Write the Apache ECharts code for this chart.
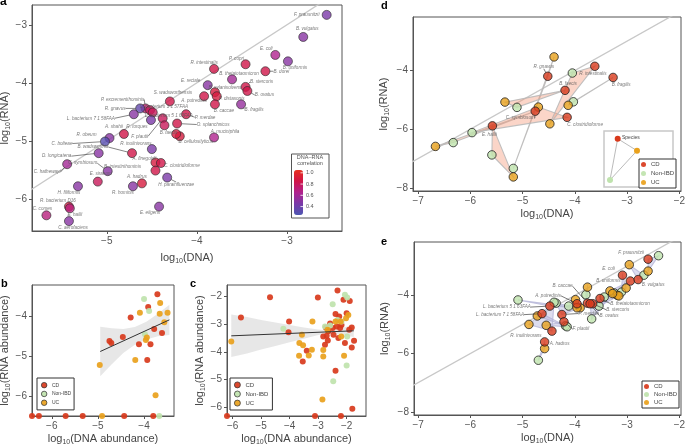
<!DOCTYPE html>
<html><head><meta charset="utf-8">
<script src="https://cdn.jsdelivr.net/npm/echarts@6/dist/echarts.min.js"></script>
<style>html,body{margin:0;padding:0;background:#fff}#c{width:685px;height:444px}</style>
</head><body><div id="c"></div>
<script>
// ---------------- Panel a ----------------
const aSpecies = ['F. prausnitzii','B. vulgatus','E. coli','B. uniformis','P. copri','B. dorei','R. intestinalis','B. thetaiotaomicron','E. rectale','B. stercoris','B. xylanisolvens','B. ovatus','P. distasonis','A. putredinis','S. wadsworthensis','B. caccae','B. fragilis','P. excrementihominis','R. gnavus','L. bacterium 1 1 57FAA','L. bacterium 5 1 63FAA','L. bacterium 7 1 58FAA','F. plautii','B. faecis','O. splanchnicus','P. merdae','A. shahii','R. torques','R. obeum','C. bolteae','B. cellulosilyticus','A. onderdonkii','B. wadsworthia','R. inulinivorans','D. longicatena','A. finegoldii','C. clostridioforme','C. hathewayi','C. symbiosum','B. intestinihominis','H. parainfluenzae','E. siraeum','A. hadrus','H. filiformis','R. hominis','R. bacterium D16','E. hallii','C. comes','C. aerofaciens','E. eligens','A. muciniphila'];
const aDNA = [-2.56,-2.82,-3.13,-2.99,-3.46,-3.24,-3.81,-3.61,-3.88,-3.46,-3.80,-3.44,-3.78,-3.92,-4.30,-3.80,-3.51,-4.57,-4.63,-4.52,-4.49,-4.70,-4.38,-4.36,-4.22,-4.12,-4.81,-4.51,-4.97,-5.02,-4.19,-4.23,-4.72,-4.50,-5.09,-4.46,-4.40,-5.44,-4.99,-4.46,-4.33,-5.10,-4.61,-5.32,-4.71,-5.42,-5.41,-5.67,-5.42,-4.42,-3.81];
const aRNA = [-2.83,-3.21,-3.52,-3.63,-3.68,-3.80,-3.76,-3.94,-4.04,-4.07,-4.16,-4.14,-4.23,-4.23,-4.32,-4.37,-4.37,-4.44,-4.44,-4.47,-4.51,-4.54,-4.61,-4.73,-4.70,-4.54,-4.88,-4.64,-4.95,-5.01,-4.92,-4.88,-5.21,-5.14,-5.21,-5.37,-5.38,-5.40,-5.52,-5.51,-5.63,-5.70,-5.73,-5.78,-5.78,-6.13,-6.16,-6.28,-6.38,-6.13,-4.94];
const aCorr = [0.45,0.5,0.65,0.5,0.85,0.85,0.85,0.6,0.5,0.85,0.9,0.85,0.9,0.85,0.85,0.85,0.55,0.75,0.35,0.8,0.8,0.5,0.8,0.8,0.85,0.85,0.85,0.45,0.5,0.3,0.9,0.9,0.85,0.45,0.5,0.9,0.85,0.6,0.5,0.85,0.45,0.8,0.9,0.5,0.5,0.9,0.7,0.7,0.5,0.5,0.65];
const aTicksX = [-5,-4,-3];
const aTicksY = [-6,-5,-4,-3];
const corrTicks = [1.0,0.8,0.6,0.4];

// ---------------- Panel b ----------------
const bCD_x = [-3.71,-3.91,-4.29,-3.78,-3.61,-4.46,-4.75,-4.71,-4.11,-3.86,-3.93,-6.43,-6.28,-5.70,-5.33,-4.43,-3.80];
const bCD_y = [-3.46,-3.78,-4.04,-4.33,-4.43,-4.53,-4.63,-4.68,-4.71,-4.71,-5.10,-6.5,-6.5,-6.5,-6.5,-6.5,-6.5];
const bNon_x = [-4.00,-3.89,-3.98,-3.67];
const bNon_y = [-3.58,-3.88,-4.46,-6.5];
const bUC_x = [-3.65,-4.09,-3.49,-3.66,-3.56,-3.96,-3.94,-4.19,-4.96,-3.75,-4.91];
const bUC_y = [-3.68,-3.92,-3.92,-3.95,-4.16,-4.60,-4.54,-5.10,-5.23,-5.98,-6.5];
const bFitX = [-4.95,-3.45];
const bFitY = [-4.89,-4.10];
const bBandX = [-4.95,-4.7,-4.45,-4.2,-3.95,-3.7,-3.45];
const bBandHi = [-4.27,-4.31,-4.33,-4.28,-4.15,-3.95,-3.72];
const bBandLo = [-5.51,-5.21,-4.93,-4.72,-4.59,-4.51,-4.48];
const bTicksX = [-6,-5,-4];
const bTicksY = [-6,-5,-4];

// ---------------- Panel c ----------------
const cCD_x = [-2.32,-4.69,-3.01,-2.11,-1.89,-5.71,-4.02,-4.04,-2.39,-2.26,-2.00,-2.58,-2.49,-2.35,-2.18,-1.82,-2.73,-2.64,-2.70,-2.66,-2.46,-2.29,-2.06,-1.74,-1.82,-2.23,-1.91,-3.40,-3.54,-2.39,-3.11,-2.20,-1.80,-6.20,-2.82,-2.76];
const cCD_y = [-1.81,-2.05,-2.06,-2.14,-2.18,-2.77,-2.92,-3.30,-2.65,-2.74,-2.62,-2.99,-3.15,-3.10,-3.04,-3.13,-3.13,-3.27,-3.43,-3.60,-3.39,-3.51,-3.69,-3.61,-3.85,-3.15,-3.21,-3.96,-4.35,-4.68,-6.30,-6.30,-6.04,-6.30,-3.45,-3.75];
const cNon_x = [-2.06,-1.98,-2.49,-4.22,-2.76,-2.32,-2.58,-1.98,-2.00,-2.47,-2.18];
const cNon_y = [-1.96,-2.06,-2.30,-3.18,-3.10,-2.86,-3.06,-3.45,-4.49,-5.06,-2.92];
const cUC_x = [-6.05,-3.57,-3.66,-3.53,-3.67,-3.33,-3.22,-3.20,-2.82,-2.82,-2.85,-2.09,-2.19,-1.94,-2.21,-2.39,-2.67,-2.02];
const cUC_y = [-3.63,-3.39,-3.69,-3.77,-4.14,-4.13,-3.93,-2.92,-3.94,-4.17,-5.71,-4.14,-3.45,-2.68,-2.92,-2.92,-3.21,-2.80];
const cFitX = [-6.05,-1.75];
const cFitY = [-3.43,-3.25];
const cBandX = [-6.05,-5.5,-5.0,-4.5,-4.0,-3.5,-3.0,-2.7,-2.4,-2.1,-1.75];
const cBandHi = [-2.67,-2.76,-2.86,-2.95,-3.04,-3.13,-3.20,-3.23,-3.20,-3.13,-3.03];
const cBandLo = [-4.19,-4.06,-3.92,-3.79,-3.66,-3.53,-3.40,-3.35,-3.36,-3.41,-3.47];
const cTicksX = [-6,-5,-4,-3,-2];
const cTicksY = [-6,-5,-4,-3,-2];

// ---------------- Panel d ----------------
const dSpecies = ['E. hallii','R. gnavus','C. symbiosum','C. clostridioforme','B. faecis','R. intestinalis','B. fragilis'];
const dCD_x = [-5.58,-4.52,-4.76,-4.15,-4.19,-3.62,-3.27];
const dCD_y = [-5.89,-4.20,-5.39,-5.60,-4.68,-3.86,-4.24];
const dNon_x = [-5.59,-5.18,-6.33,-5.97,-5.11,-4.05,-4.03];
const dNon_y = [-6.88,-7.34,-6.46,-6.12,-5.26,-4.09,-5.07];
const dUC_x = [-5.18,-4.40,-6.67,-4.70,-5.34,-4.48,-4.13];
const dUC_y = [-7.63,-3.54,-6.59,-5.25,-5.08,-5.82,-5.19];

// ---------------- Panel e ----------------
const eSpecies = ['F. prausnitzii','E. coli','B. uniformis','B. vulgatus','B. caccae','A. putredinis','B. thetaiotaomicron','B. stercoris','B. ovatus','P. merdae','L. bacterium 5 1 63FAA','L. bacterium 7 1 58FAA','F. plautii','R. inulinivorans','A. hadrus'];
const eCD_x = [-2.60,-3.09,-2.94,-2.79,-3.76,-3.96,-3.52,-3.66,-3.71,-4.25,-4.48,-4.63,-4.21,-4.44,-4.58];
const eCD_y = [-2.76,-3.31,-3.51,-3.46,-4.27,-4.29,-4.11,-4.29,-4.29,-4.66,-4.37,-4.63,-4.91,-5.23,-5.60];
const eNon_x = [-2.40,-3.11,-3.25,-2.68,-3.79,-4.12,-3.44,-3.54,-3.68,-4.36,-5.09,-4.18,-4.15,-4.40,-4.70];
const eNon_y = [-2.64,-3.89,-3.92,-3.31,-3.98,-4.37,-4.06,-4.37,-4.81,-4.27,-4.16,-5.05,-5.08,-4.24,-6.23];
const eUC_x = [-2.60,-3.02,-3.33,-2.96,-3.76,-3.99,-3.19,-3.16,-3.28,-3.90,-3.96,-4.72,-4.55,-4.88,-4.58];
const eUC_y = [-3.17,-3.75,-3.85,-2.95,-3.72,-4.15,-4.00,-4.02,-3.94,-4.43,-4.43,-4.71,-5.03,-5.00,-5.83];
const deTicksX = [-7,-6,-5,-4,-3,-2];
const deTicksY = [-8,-6,-4];
const groups = ['CD','Non-IBD','UC'];

// ---------------- layout / style (not data) ----------------
const FONT = 'Liberation Sans';
const COL = {CD:'#d8391c', 'Non-IBD':'#bfe3ad', UC:'#e9a11c'};
// label offsets [dx, dy, leaderLine]
const aLab = [[-20,0],[4,-8],[-9,-6],[7,6],[-9,-6],[16,0,1],[-10,-6],[7,-6],[-17,-4],[16,-5,1],[10,-4],[17,4,1],[15,3],[-10,5],[3,-9],[9,6],[13,5,1],[-23,-9,1],[-25,0,1],[14,-3],[16,3],[-43,4,1],[-23,18,1],[4,7],[36,1,1],[19,3,1],[-10,-7],[-14,7],[-23,-3],[-43,2,1],[16,5],null,[-39,-6,1],[-16,-5],[-42,3,1],[-11,-4],[21,3],[-20,8,1],[-25,-8,1],[-33,-4],[9,7,1],[3,-8],[-5,-7],[-9,6],[-10,6],[-11,-6],[5,6],[-4,-7],[4,7],[-9,6],[11,-6]];
const dLab = [[-3,9],[-4,-10,1],[-15,7,1],[18,7],[3,-7],[-2,7],[8,7]];
const eLab = [[-17,-6],[-14,-6],[-22,0],[15,5],[-25,-17,1],[-29,-8,1],[30,5,1],[25,6,1],[19,12,1],[27,-1,1],[-43,1,1],[-42,1,1],[17,7,1],[-26,5],[15,2]];

const minus = v => (v < 0 ? '\u2212' : '') + Math.abs(v);
function mkAxis(gi, min, max, ticks, name, gap){
  return {
    type:'value', gridIndex:gi, min:min, max:max,
    name:name, nameLocation:'middle', nameGap:gap,
    nameTextStyle:{fontFamily:FONT, fontSize:11, color:'#444', lineHeight:14,
      rich:{s:{fontFamily:FONT, fontSize:7, lineHeight:7, verticalAlign:'bottom', color:'#444'}}},
    axisLine:{show:true, onZero:false, lineStyle:{color:'#555', width:1}},
    axisTick:{show:true, inside:false, length:3, customValues:ticks, lineStyle:{color:'#555'}},
    axisLabel:{customValues:ticks, fontFamily:FONT, fontSize:10, color:'#555', margin:5, formatter:minus},
    splitLine:{show:false}
  };
}
function mkGrid(l,t,w,h){
  return {left:l, top:t, width:w, height:h, show:true, borderColor:'#555', borderWidth:1,
    backgroundColor:'rgba(0,0,0,0)', containLabel:false, outerBoundsMode:'none'};
}
const diag = [[-9,-9],[0,0]];
function diagSeries(gi){
  return {type:'line', xAxisIndex:gi, yAxisIndex:gi, data:diag, symbol:'none', silent:true, z:1,
    lineStyle:{color:'#c8c8c8', width:1.3}};
}
function pairs(xs, ys){ return xs.map((x,i)=>[x, ys[i]]); }
function smallScatter(gi, name, xs, ys){
  return {type:'scatter', name:name, xAxisIndex:gi, yAxisIndex:gi, data:pairs(xs,ys), symbolSize:6, clip:false, z:3,
    itemStyle:{color:COL[name], opacity:0.92, borderWidth:0}};
}
function bandSeries(gi, bx, hi, lo){
  return {type:'custom', xAxisIndex:gi, yAxisIndex:gi, silent:true, z:2, data:[0],
    renderItem:(params, api)=>{
      const up = bx.map((x,i)=>api.coord([x, hi[i]]));
      const dn = bx.map((x,i)=>api.coord([x, lo[i]])).reverse();
      return {type:'polygon', shape:{points:up.concat(dn)}, style:{fill:'rgba(215,215,215,0.6)'}};
    }};
}
function fitSeries(gi, fx, fy){
  return {type:'line', xAxisIndex:gi, yAxisIndex:gi, data:pairs(fx,fy), symbol:'none', silent:true, z:4,
    lineStyle:{color:'#333', width:1}};
}
function triSeries(gi, cx, cy, nx, ny, ux, uy, fill, stroke){
  return {type:'custom', xAxisIndex:gi, yAxisIndex:gi, silent:true, z:2,
    data: cx.map((x,i)=>[x, cy[i], nx[i], ny[i], ux[i], uy[i]]),
    renderItem:(params, api)=>{
      const pts = [0,1,2].map(k=>api.coord([api.value(2*k), api.value(2*k+1)]));
      return {type:'polygon', shape:{points:pts}, style:{fill:fill, stroke:stroke, lineWidth:1.1}};
    }};
}
const labStyle = {show:true, position:'inside', formatter:'{b}', fontSize:4.6, fontStyle:'italic', fontFamily:FONT, color:'#555'};
function bigScatter(gi, name, xs, ys, names, labs){
  const s = {type:'scatter', name:name, xAxisIndex:gi, yAxisIndex:gi, symbolSize:8.5, z:4, clip:false,
    itemStyle:{color:COL[name], borderColor:'#222', borderWidth:1},
    data: xs.map((x,i)=>{
      const it = {value:[x, ys[i]]};
      if (names){ it.name = names[i]; it.labelLine = {show: !!(labs[i] && labs[i][2])}; }
      return it;
    })};
  if (names){
    s.label = labStyle;
    s.labelLine = {show:false, lineStyle:{color:'#222', width:0.6}};
    s.labelLayout = p => { const o = labs[p.dataIndex]; return o ? {dx:o[0], dy:o[1]} : {}; };
    s.z = 5;
  }
  return s;
}

// colour bar geometry
const cbTop = 170, cbH = 45, cbMin = 0.25, cbMax = 1.05, cbLeft = 294;
const cbY = v => cbTop + (cbMax - v) / (cbMax - cbMin) * cbH;

const graphic = [
  {type:'text', left:0, top:-4, style:{text:'a', font:'bold 12px "Liberation Sans"', fill:'#000'}},
  {type:'text', left:1, top:278, style:{text:'b', font:'bold 11px "Liberation Sans"', fill:'#000'}},
  {type:'text', left:190, top:278, style:{text:'c', font:'bold 11px "Liberation Sans"', fill:'#000'}},
  {type:'text', left:381, top:0, style:{text:'d', font:'bold 11px "Liberation Sans"', fill:'#000'}},
  {type:'text', left:381, top:236, style:{text:'e', font:'bold 11px "Liberation Sans"', fill:'#000'}},
  // colour legend box of a
  {type:'rect', z:1, shape:{x:291.5, y:154, width:37.5, height:64}, style:{fill:'#fff', stroke:'#555', lineWidth:1}},
  {type:'text', z:2, x:310, y:154.5, style:{text:'DNA\u2013RNA', fontFamily:FONT, fontSize:5.5, fill:'#555', align:'center', verticalAlign:'top'}},
  {type:'text', z:2, x:310, y:160.5, style:{text:'correlation', fontFamily:FONT, fontSize:5.5, fill:'#555', align:'center', verticalAlign:'top'}}
];
corrTicks.forEach(v=>{
  graphic.push({type:'text', z:20, x:cbLeft+12, y:cbY(v), style:{text:v.toFixed(1), fontFamily:FONT, fontSize:5.5, fill:'#555', verticalAlign:'middle'}});
  graphic.push({type:'line', z:20, shape:{x1:cbLeft+6.5, y1:cbY(v), x2:cbLeft+9, y2:cbY(v)}, style:{stroke:'#fff', lineWidth:0.8}});
});
// schematic inset of d
graphic.push(
  {type:'rect', z:6, shape:{x:604, y:131, width:69, height:56}, style:{fill:'#fff', stroke:'#c8c8c8', lineWidth:1.5}},
  {type:'polygon', z:7, shape:{points:[[617.7,138.7],[637,150.7],[610,180]]}, style:{fill:'none', stroke:'#bbb', lineWidth:1}},
  {type:'circle', z:8, shape:{cx:617.7, cy:138.7, r:3}, style:{fill:COL.CD}},
  {type:'circle', z:8, shape:{cx:637, cy:150.7, r:3}, style:{fill:COL.UC}},
  {type:'circle', z:8, shape:{cx:610, cy:180, r:3}, style:{fill:COL['Non-IBD']}},
  {type:'text', z:8, x:622, y:138, style:{text:'Species', fontFamily:FONT, fontSize:5, fill:'#444', verticalAlign:'middle'}}
);

function mkLegend(left, top, fs, isz, gap, pad, bordered){
  return {left:left, top:top, orient:'vertical', data:groups, icon:'circle', selectedMode:false,
    itemWidth:isz, itemHeight:isz, itemGap:gap, padding:pad, z:12,
    backgroundColor:'#fff', borderColor:'#333', borderWidth:1, borderRadius:0,
    textStyle:{fontFamily:FONT, fontSize:fs, color:'#444'},
    itemStyle: bordered ? {borderColor:'#333', borderWidth:0.8} : {borderWidth:0}};
}

const option = {
  animation:false,
  backgroundColor:'#fff',
  grid:[mkGrid(32,5,310,226), mkGrid(32,285,142,131), mkGrid(227,285,139,131), mkGrid(413,17,268,174), mkGrid(414,242,267,173)],
  xAxis:[
    mkAxis(0,-5.83,-2.39,aTicksX,'log{s|10}(DNA)',17),
    mkAxis(1,-6.43,-3.35,bTicksX,'log{s|10}(DNA abundance)',16),
    mkAxis(2,-6.2,-1.32,cTicksX,'log{s|10}(DNA abundance)',16),
    mkAxis(3,-7.1,-1.97,deTicksX,'log{s|10}(DNA)',16),
    mkAxis(4,-7.08,-1.97,deTicksX,'log{s|10}(DNA)',15)
  ],
  yAxis:[
    mkAxis(0,-6.55,-2.66,aTicksY,'log{s|10}(RNA)',20),
    mkAxis(1,-6.5,-3.23,bTicksY,'log{s|10}(RNA abundance)',19),
    mkAxis(2,-6.3,-1.61,cTicksY,'log{s|10}(RNA abundance)',19),
    mkAxis(3,-8.11,-2.18,deTicksY,'log{s|10}(RNA)',22),
    mkAxis(4,-8.11,-2.17,deTicksY,'log{s|10}(RNA)',22)
  ],
  visualMap:[{type:'continuous', seriesIndex:1, dimension:2, min:cbMin, max:cbMax, orient:'vertical',
    left:cbLeft, top:cbTop, itemWidth:9, itemHeight:cbH, padding:0, calculable:false, z:10,
    inRange:{color:['#4c56b2','#7a3aa8','#b0238f','#d01548','#e8301e']}}],
  legend:[
    mkLegend(37,378,5,5.5,2.5,[4,3,4,4],true),
    mkLegend(230,378,6,6,2.3,[3.5,4,3.5,4],true),
    mkLegend(639,159,6,5,3,[2.5,2,2.5,2],false),
    mkLegend(642,381,6,5,2,[2.5,2,2.5,2],false)
  ],
  graphic:graphic,
  series:[
    diagSeries(0),
    {type:'scatter', xAxisIndex:0, yAxisIndex:0, symbolSize:9, z:4, clip:false,
      itemStyle:{borderColor:'#2a2a2a', borderWidth:0.8},
      data:aSpecies.map((s,i)=>({name:s, value:[aDNA[i], aRNA[i], aCorr[i]],
        label:{show: aLab[i] !== null}, labelLine:{show: !!(aLab[i] && aLab[i][2])}})),
      label:labStyle,
      labelLine:{show:false, lineStyle:{color:'#333', width:0.6}},
      labelLayout: p => { const o = aLab[p.dataIndex]; return o ? {dx:o[0], dy:o[1]} : {}; }
    },
    bandSeries(1,bBandX,bBandHi,bBandLo),
    smallScatter(1,'CD',bCD_x,bCD_y),
    smallScatter(1,'Non-IBD',bNon_x,bNon_y),
    smallScatter(1,'UC',bUC_x,bUC_y),
    fitSeries(1,bFitX,bFitY),
    bandSeries(2,cBandX,cBandHi,cBandLo),
    smallScatter(2,'CD',cCD_x,cCD_y),
    smallScatter(2,'Non-IBD',cNon_x,cNon_y),
    smallScatter(2,'UC',cUC_x,cUC_y),
    fitSeries(2,cFitX,cFitY),
    diagSeries(3),
    triSeries(3,dCD_x,dCD_y,dNon_x,dNon_y,dUC_x,dUC_y,'rgba(244,150,118,0.4)','rgba(185,185,185,0.9)'),
    bigScatter(3,'Non-IBD',dNon_x,dNon_y),
    bigScatter(3,'UC',dUC_x,dUC_y),
    bigScatter(3,'CD',dCD_x,dCD_y,dSpecies,dLab),
    diagSeries(4),
    triSeries(4,eCD_x,eCD_y,eNon_x,eNon_y,eUC_x,eUC_y,'rgba(170,170,215,0.4)','rgba(180,180,215,0.8)'),
    bigScatter(4,'Non-IBD',eNon_x,eNon_y),
    bigScatter(4,'UC',eUC_x,eUC_y),
    bigScatter(4,'CD',eCD_x,eCD_y,eSpecies,eLab)
  ]
};
const chart = echarts.init(document.getElementById('c'), null, {renderer:'canvas'});
chart.setOption(option);
</script>
</body></html>
